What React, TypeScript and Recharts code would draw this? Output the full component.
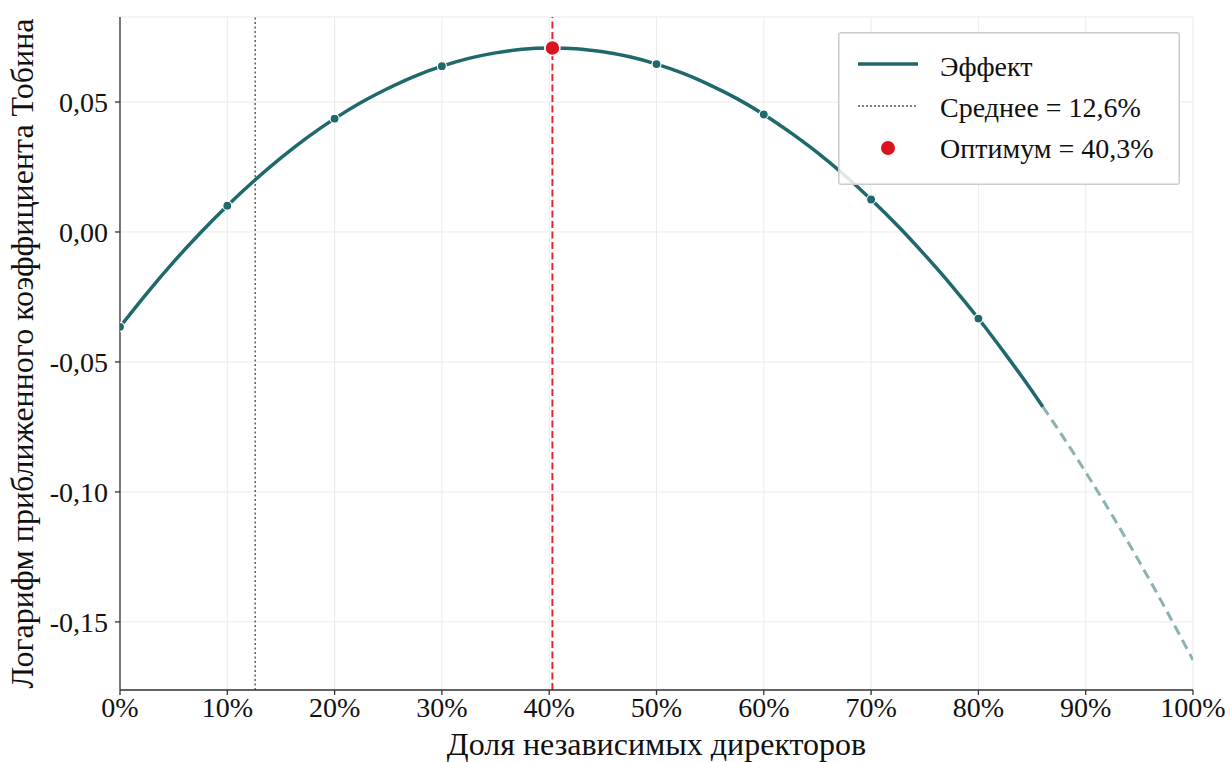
import { ComposedChart, Line, Scatter, XAxis, YAxis, CartesianGrid, ReferenceLine, Legend } from 'recharts';

const FONT = '"Liberation Serif", "Times New Roman", serif';
const TEAL = '#1f686b';
const TEAL_LIGHT = '#8db1b2';
const RED = '#d9141c';

// Fitted effect (share of independent directors, %)
const solidX = [0, 2.5, 5, 7.5, 10, 12.5, 15, 17.5, 20, 22.5, 25, 27.5, 30, 32.5, 35, 37.5, 40, 40.3, 42.5, 45, 47.5, 50, 52.5, 55, 57.5, 60, 62.5, 65, 67.5, 70, 72.5, 75, 77.5, 80, 82.5, 85, 86];
const solidY = [-0.0365, -0.0236, -0.0115, -0.0003, 0.0101, 0.0197, 0.0285, 0.0365, 0.0436, 0.0499, 0.0553, 0.06, 0.0638, 0.0668, 0.0689, 0.0703, 0.0708, 0.0708, 0.0705, 0.0693, 0.0674, 0.0646, 0.061, 0.0565, 0.0513, 0.0452, 0.0382, 0.0305, 0.0219, 0.0125, 0.0023, -0.0088, -0.0206, -0.0333, -0.0469, -0.0612, -0.0672];

// Extrapolated part beyond the observed range
const extrapX = [86, 87.5, 90, 92.5, 95, 97.5, 100];
const extrapY = [-0.0672, -0.0764, -0.0924, -0.1092, -0.1269, -0.1454, -0.1647];

const markerX = [0, 10, 20, 30, 40, 50, 60, 70, 80];
const markerY = [-0.0365, 0.0101, 0.0436, 0.0638, 0.0708, 0.0646, 0.0452, 0.0125, -0.0333];

const meanShare = 12.6;
const optimumShare = 40.3;
const optimumValue = 0.0708;

const xTicks = [0, 10, 20, 30, 40, 50, 60, 70, 80, 90, 100];
const yTicks = [-0.15, -0.1, -0.05, 0, 0.05];

const solidData = solidX.map((x, i) => ({ x, y: solidY[i] }));
const extrapData = extrapX.map((x, i) => ({ x, y: extrapY[i] }));
const markerData = markerX.map((x, i) => ({ x, y: markerY[i] }));
const optimumData = [{ x: optimumShare, y: optimumValue }];

const fmtY = (v: number) => v.toFixed(2).replace('.', ',');

function LegendBox() {
  return (
    <svg width={342} height={153} style={{ display: 'block' }}>
      <rect x={0.75} y={0.75} width={340.5} height={151.5} fill="rgba(255,255,255,0.85)" stroke="#cccccc" strokeWidth={1.5} rx={2} />
      <line x1={20} x2={80} y1={32} y2={32} stroke={TEAL} strokeWidth={3.5} />
      <line x1={20} x2={80} y1={74} y2={74} stroke="#555" strokeWidth={1.5} strokeDasharray="2 2" />
      <circle cx={50} cy={116} r={7} fill={RED} />
      <g fontFamily={FONT} fontSize={28} fill="#111">
        <text x={102} y={34} dominantBaseline="central">Эффект</text>
        <text x={102} y={75} dominantBaseline="central">Среднее = 12,6%</text>
        <text x={102} y={116} dominantBaseline="central">Оптимум = 40,3%</text>
      </g>
    </svg>
  );
}

const markerShape = (props: any) => (
  <circle cx={props.cx} cy={props.cy} r={4.5} fill={TEAL} stroke="#fff" strokeWidth={1.2} />
);

const optimumShape = (props: any) => (
  <circle cx={props.cx} cy={props.cy} r={7.5} fill={RED} stroke="#fff" strokeWidth={1.5} />
);

export default function App() {
  return (
    <div style={{ position: 'absolute', left: 0, top: 0, width: 1231, height: 762, background: '#fff' }}>
      <ComposedChart width={1231} height={762} margin={{ top: 17, right: 38, bottom: 0, left: 0 }}>
        <CartesianGrid stroke="#ebebeb" strokeWidth={1} />
        <XAxis
          type="number"
          dataKey="x"
          domain={[0, 100]}
          ticks={xTicks}
          tickFormatter={(v) => `${v}%`}
          height={72}
          allowDataOverflow
          stroke="#333"
          strokeWidth={1.3}
          tickSize={5}
          tickMargin={2}
          tick={{ fill: '#111', fontSize: 28, fontFamily: FONT }}
          label={{
            content: (p: any) => (
              <text x={p.viewBox.x + p.viewBox.width / 2} y={755} textAnchor="middle" fontFamily={FONT} fontSize={32} fill="#111">
                Доля независимых директоров
              </text>
            ),
          }}
        />
        <YAxis
          type="number"
          domain={[-0.1762, 0.0827]}
          ticks={yTicks}
          tickFormatter={fmtY}
          width={120}
          allowDataOverflow
          stroke="#333"
          strokeWidth={1.3}
          tickSize={5}
          tickMargin={7}
          tick={{ fill: '#111', fontSize: 28, fontFamily: FONT }}
          label={{
            content: (p: any) => {
              const cy = p.viewBox.y + p.viewBox.height / 2;
              return (
                <text x={33} y={cy} transform={`rotate(-90, 33, ${cy})`} textAnchor="middle" fontFamily={FONT} fontSize={32} fill="#111">
                  Логарифм приближенного коэффициента Тобина
                </text>
              );
            },
          }}
        />
        <ReferenceLine x={meanShare} stroke="#666" strokeWidth={1.6} strokeDasharray="2 2.5" />
        <ReferenceLine x={optimumShare} stroke="#e8262d" strokeWidth={2} strokeDasharray="7 3.5" />
        <Line data={extrapData} dataKey="y" type="monotone" stroke={TEAL_LIGHT} strokeWidth={3} strokeDasharray="10 6" dot={false} isAnimationActive={false} legendType="none" />
        <Line data={solidData} dataKey="y" type="monotone" stroke={TEAL} strokeWidth={3.5} dot={false} isAnimationActive={false} legendType="none" />
        <Scatter data={markerData} dataKey="y" shape={markerShape} isAnimationActive={false} legendType="none" />
        <Scatter data={optimumData} dataKey="y" shape={optimumShape} isAnimationActive={false} legendType="none" />
        <Legend
          layout="horizontal"
          verticalAlign="middle"
          align="center"
          content={() => <LegendBox />}
          wrapperStyle={{ top: 32, left: 838, width: 342, height: 153 }}
        />
      </ComposedChart>
    </div>
  );
}
